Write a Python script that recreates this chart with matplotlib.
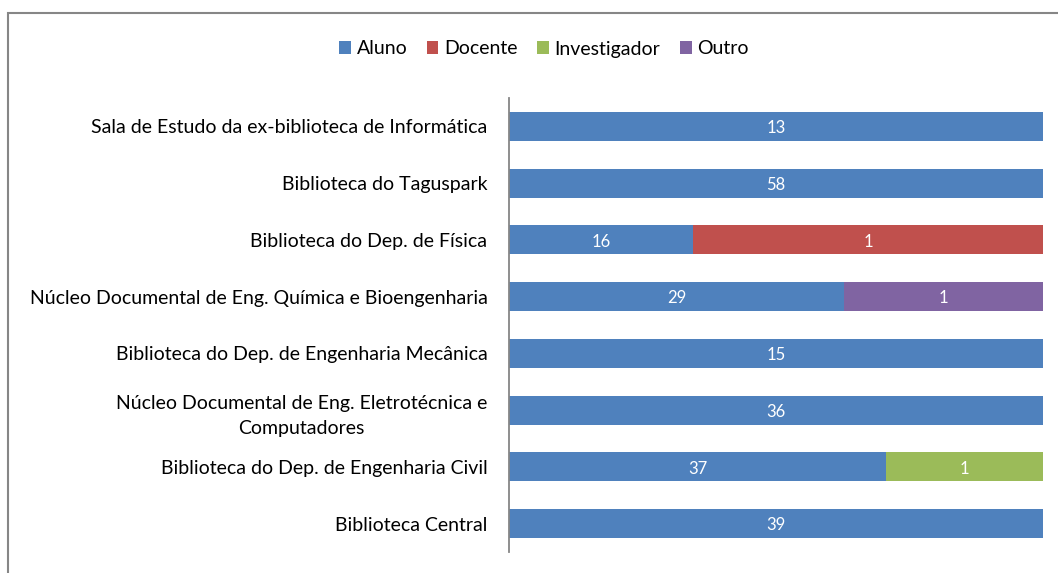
import numpy as np
import matplotlib
matplotlib.use("Agg")
import matplotlib.pyplot as plt
from matplotlib.patches import Rectangle

plt.rcParams["font.family"] = ["Lato", "DejaVu Sans"]

categories = [
    "Sala de Estudo da ex-biblioteca de Informática",
    "Biblioteca do Taguspark",
    "Biblioteca do Dep. de Física",
    "Núcleo Documental de Eng. Química e Bioengenharia",
    "Biblioteca do Dep. de Engenharia Mecânica",
    "Núcleo Documental de Eng. Eletrotécnica e\nComputadores",
    "Biblioteca do Dep. de Engenharia Civil",
    "Biblioteca Central",
]
series = ["Aluno", "Docente", "Investigador", "Outro"]
colors = ["#4F81BD", "#C0504D", "#9BBB59", "#8064A2"]

# counts shown as data labels
aluno_n = [13, 58, 16, 29, 15, 36, 37, 39]
docente_n = [0, 0, 1, 0, 0, 0, 0, 0]
investigador_n = [0, 0, 0, 0, 0, 0, 1, 0]
outro_n = [0, 0, 0, 1, 0, 0, 0, 0]

# segment shares as drawn (100% stacked)
aluno_share = [1.0, 1.0, 0.345, 0.627, 1.0, 1.0, 0.706, 1.0]
docente_share = [0, 0, 0.655, 0, 0, 0, 0, 0]
investigador_share = [0, 0, 0, 0, 0, 0, 0.294, 0]
outro_share = [0, 0, 0, 0.373, 0, 0, 0, 0]

counts = [aluno_n, docente_n, investigador_n, outro_n]
shares = [aluno_share, docente_share, investigador_share, outro_share]

W, H = 1058, 573
fig = plt.figure(figsize=(W / 100, H / 100), dpi=100)
# chart frame
fig.patches.append(Rectangle((7.5 / W, -0.1), 1.2, (H - 12.5) / H + 0.1,
                             transform=fig.transFigure, fill=False,
                             edgecolor="#868686", linewidth=1.5))

ax = fig.add_axes([509 / W, (H - 552) / H, (1043 - 509) / W, (552 - 98) / H])
y = np.arange(len(categories))
left = np.zeros(len(categories))
for name, col, sh, n in zip(series, colors, shares, counts):
    sh = np.array(sh, dtype=float)
    ax.barh(y, sh, left=left, height=0.51, color=col, label=name,
            edgecolor=col, linewidth=0)
    for yi, (l, w, c) in enumerate(zip(left, sh, n)):
        if w > 0:
            ax.text(l + w / 2, yi + 0.03, str(c), ha="center", va="center",
                    color="white", fontsize=12)
    left += sh

ax.set_xlim(0, 1)
ax.set_ylim(len(categories) - 0.5, -0.5)
ax.set_yticks(y)
ax.set_yticklabels(categories, fontsize=14, multialignment="center",
                   linespacing=1.6)
ax.tick_params(axis="y", length=0, pad=15.5)
ax.set_xticks([])
for s in ["top", "right", "bottom"]:
    ax.spines[s].set_visible(False)
ax.spines["left"].set_color("#868686")
ax.spines["left"].set_linewidth(1.3)

handles, labels = ax.get_legend_handles_labels()
fig.legend(handles, labels, loc="center", bbox_to_anchor=(544 / W, (H - 49) / H),
           ncol=4, frameon=False, fontsize=14, handlelength=0.6,
           handleheight=0.6, handletextpad=0.3, columnspacing=1.0)

fig.savefig("out.png", dpi=100)
